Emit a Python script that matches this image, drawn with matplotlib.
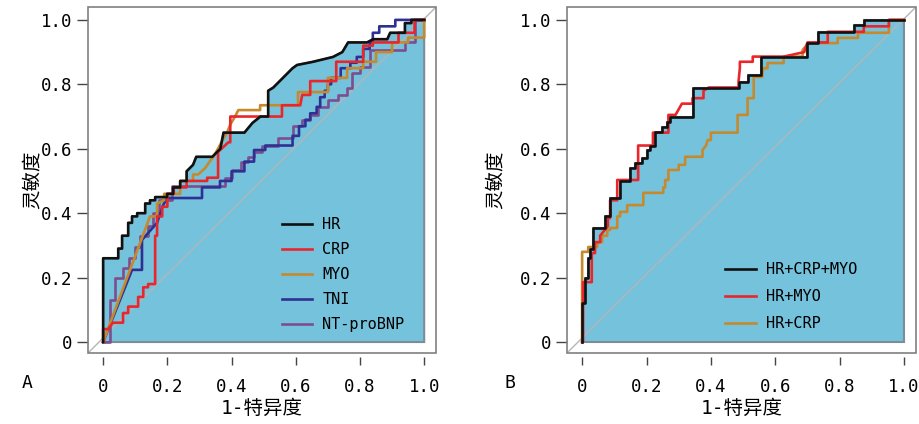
import matplotlib
matplotlib.use("Agg")
import matplotlib.pyplot as plt
from matplotlib.patches import Rectangle

plt.rcParams["font.family"] = ["DejaVu Sans Mono", "Noto Sans CJK SC"]

FILL = "#75C2DD"
EDGE = "#7c8c98"
FRAME = "#808080"

# ---- panel A: single markers ----
hr_x = [0, 0, 0.047, 0.047, 0.059, 0.059, 0.078, 0.078, 0.090, 0.090, 0.106, 0.106,
        0.131, 0.131, 0.146, 0.146, 0.162, 0.162, 0.199, 0.199, 0.218, 0.218, 0.24, 0.24,
        0.26, 0.26, 0.28, 0.29, 0.34, 0.365, 0.375, 0.44, 0.465, 0.49, 0.514, 0.514,
        0.53, 0.59, 0.604, 0.654, 0.716, 0.745, 0.763, 0.822, 0.841, 0.885, 0.894,
        0.94, 0.94, 0.96, 0.96, 1.0]
hr_y = [0, 0.26, 0.26, 0.29, 0.29, 0.33, 0.33, 0.37, 0.37, 0.39, 0.39, 0.40,
        0.40, 0.43, 0.43, 0.44, 0.44, 0.45, 0.45, 0.46, 0.46, 0.48, 0.48, 0.50,
        0.50, 0.53, 0.55, 0.575, 0.575, 0.60, 0.65, 0.65, 0.68, 0.70, 0.70, 0.78,
        0.79, 0.85, 0.86, 0.87, 0.885, 0.90, 0.93, 0.93, 0.94, 0.94, 0.96,
        0.96, 0.99, 0.99, 1.0, 1.0]

crp_x = [0, 0, 0.016, 0.03, 0.062, 0.062, 0.078, 0.078, 0.109, 0.109, 0.125, 0.125,
         0.140, 0.140, 0.162, 0.162, 0.168, 0.168, 0.184, 0.184, 0.20, 0.20, 0.22, 0.22,
         0.26, 0.26, 0.324, 0.324, 0.358, 0.358, 0.39, 0.396, 0.396, 0.557, 0.557,
         0.614, 0.62, 0.645, 0.645, 0.726, 0.726, 0.81, 0.81, 0.84, 0.84, 0.92, 0.92,
         0.97, 0.97, 1.0]
crp_y = [0, 0.04, 0.04, 0.06, 0.06, 0.09, 0.09, 0.11, 0.11, 0.14, 0.14, 0.17,
         0.17, 0.18, 0.18, 0.33, 0.33, 0.39, 0.39, 0.42, 0.42, 0.46, 0.46, 0.48,
         0.48, 0.50, 0.50, 0.51, 0.51, 0.59, 0.62, 0.62, 0.70, 0.70, 0.735,
         0.735, 0.767, 0.767, 0.81, 0.81, 0.87, 0.87, 0.92, 0.92, 0.93, 0.93, 0.96,
         0.96, 1.0, 1.0]

myo_x = [0, 0.146, 0.168, 0.168, 0.19, 0.19, 0.24, 0.24, 0.28, 0.28, 0.296, 0.318,
         0.335, 0.344, 0.374, 0.386, 0.396, 0.411, 0.421, 0.489, 0.489, 0.607, 0.607,
         0.70, 0.70, 0.76, 0.76, 0.81, 0.81, 0.85, 0.85, 0.90, 0.90, 0.95, 0.95,
         1.0, 1.0]
myo_y = [0, 0.39, 0.39, 0.43, 0.44, 0.46, 0.46, 0.50, 0.50, 0.52, 0.52, 0.54,
         0.565, 0.575, 0.63, 0.65, 0.675, 0.70, 0.72, 0.72, 0.735, 0.735, 0.776,
         0.776, 0.82, 0.82, 0.85, 0.85, 0.87, 0.87, 0.90, 0.90, 0.93, 0.93, 0.945,
         0.945, 1.0]

tni_x = [0, 0.09, 0.121, 0.121, 0.168, 0.187, 0.199, 0.308, 0.308, 0.364, 0.364,
         0.40, 0.40, 0.44, 0.44, 0.47, 0.47, 0.505, 0.505, 0.59, 0.59, 0.61, 0.61,
         0.63, 0.63, 0.645, 0.645, 0.665, 0.665, 0.676, 0.676, 0.69, 0.69, 0.70,
         0.70, 0.71, 0.71, 0.74, 0.74, 0.77, 0.77, 0.79, 0.79, 0.81, 0.81, 0.83,
         0.83, 0.84, 0.84, 0.86, 0.86, 0.91, 0.91, 1.0]
tni_y = [0, 0.224, 0.224, 0.317, 0.37, 0.425, 0.447, 0.447, 0.48, 0.48, 0.50,
         0.50, 0.53, 0.53, 0.56, 0.56, 0.596, 0.596, 0.61, 0.61, 0.64, 0.64, 0.67,
         0.67, 0.69, 0.69, 0.71, 0.71, 0.73, 0.73, 0.76, 0.76, 0.78, 0.78,
         0.80, 0.80, 0.82, 0.82, 0.85, 0.85, 0.867, 0.867, 0.885, 0.885, 0.91, 0.91,
         0.93, 0.93, 0.96, 0.96, 0.98, 0.98, 1.0, 1.0]

bnp_x = [0, 0.02, 0.02, 0.037, 0.037, 0.062, 0.062, 0.08, 0.08, 0.10, 0.10, 0.115,
         0.115, 0.14, 0.14, 0.155, 0.155, 0.175, 0.175, 0.215, 0.215, 0.38, 0.38,
         0.40, 0.40, 0.43, 0.43, 0.45, 0.45, 0.47, 0.47, 0.495, 0.495, 0.545, 0.545,
         0.59, 0.59, 0.62, 0.62, 0.645, 0.645, 0.67, 0.67, 0.70, 0.70, 0.732, 0.732,
         0.76, 0.76, 0.776, 0.776, 0.80, 0.80, 0.83, 0.83, 0.94, 0.94, 0.97, 0.97, 1.0]
bnp_y = [0, 0, 0.13, 0.13, 0.20, 0.20, 0.23, 0.23, 0.26, 0.26, 0.295, 0.295,
         0.33, 0.33, 0.36, 0.36, 0.40, 0.40, 0.44, 0.44, 0.485, 0.485, 0.51,
         0.51, 0.535, 0.535, 0.56, 0.56, 0.575, 0.575, 0.59, 0.59, 0.61, 0.61, 0.633,
         0.633, 0.67, 0.67, 0.69, 0.69, 0.705, 0.705, 0.73, 0.73, 0.75, 0.75, 0.767,
         0.767, 0.79, 0.79, 0.835, 0.835, 0.855, 0.855, 0.905, 0.905, 0.93, 0.93, 1.0, 1.0]

# ---- panel B: combinations ----
c3_x = [0, 0, 0.01, 0.01, 0.019, 0.019, 0.025, 0.025, 0.034, 0.034, 0.072, 0.072,
        0.087, 0.087, 0.118, 0.118, 0.15, 0.15, 0.165, 0.165, 0.187, 0.187, 0.202,
        0.202, 0.212, 0.212, 0.227, 0.227, 0.249, 0.249, 0.265, 0.265, 0.274, 0.274,
        0.343, 0.343, 0.486, 0.486, 0.514, 0.514, 0.555, 0.555, 0.70, 0.70, 0.732,
        0.732, 0.845, 0.845, 0.875, 0.875, 1.0]
c3_y = [0, 0.12, 0.12, 0.20, 0.20, 0.26, 0.26, 0.29, 0.29, 0.354, 0.354, 0.39,
        0.39, 0.447, 0.447, 0.50, 0.50, 0.54, 0.54, 0.556, 0.556, 0.57, 0.57,
        0.596, 0.596, 0.61, 0.61, 0.652, 0.652, 0.667, 0.667, 0.683, 0.683, 0.70,
        0.70, 0.79, 0.79, 0.807, 0.807, 0.83, 0.83, 0.886, 0.886, 0.928, 0.928,
        0.963, 0.963, 0.985, 0.985, 1.0, 1.0]

hm_x = [0, 0.003, 0.003, 0.03, 0.03, 0.04, 0.04, 0.056, 0.056, 0.08, 0.08, 0.087,
        0.087, 0.109, 0.109, 0.174, 0.174, 0.22, 0.22, 0.268, 0.268, 0.29, 0.31,
        0.343, 0.343, 0.377, 0.377, 0.393, 0.486, 0.486, 0.49, 0.49, 0.53, 0.53,
        0.626, 0.69, 0.70, 0.763, 0.763, 0.875, 0.875, 0.953, 0.953, 1.0]
hm_y = [0, 0, 0.186, 0.186, 0.276, 0.276, 0.31, 0.31, 0.33, 0.36, 0.385, 0.385,
        0.44, 0.44, 0.503, 0.503, 0.61, 0.61, 0.65, 0.65, 0.705, 0.705, 0.74,
        0.74, 0.757, 0.757, 0.78, 0.79, 0.79, 0.81, 0.85, 0.87, 0.87, 0.886,
        0.886, 0.90, 0.93, 0.93, 0.963, 0.963, 0.98, 0.98, 1.0, 1.0]

hc_x = [0, 0, 0.019, 0.019, 0.047, 0.047, 0.062, 0.062, 0.078, 0.078, 0.087, 0.087,
        0.109, 0.109, 0.118, 0.118, 0.14, 0.14, 0.19, 0.19, 0.252, 0.252, 0.258,
        0.258, 0.268, 0.268, 0.30, 0.30, 0.32, 0.32, 0.374, 0.374, 0.385, 0.39,
        0.40, 0.40, 0.483, 0.483, 0.514, 0.514, 0.533, 0.533, 0.56, 0.56, 0.564,
        0.576, 0.576, 0.626, 0.626, 0.685, 0.685, 0.704, 0.794, 0.794, 0.857, 0.857,
        0.953, 0.953, 1.0]
hc_y = [0, 0.28, 0.28, 0.295, 0.295, 0.31, 0.31, 0.33, 0.33, 0.348, 0.348, 0.354,
        0.354, 0.39, 0.39, 0.404, 0.404, 0.425, 0.425, 0.463, 0.463, 0.48, 0.48,
        0.503, 0.503, 0.534, 0.534, 0.55, 0.55, 0.575, 0.575, 0.596, 0.61, 0.627,
        0.627, 0.65, 0.65, 0.705, 0.705, 0.757, 0.757, 0.823, 0.823, 0.838, 0.85,
        0.85, 0.866, 0.866, 0.886, 0.886, 0.907, 0.928, 0.928, 0.944, 0.944, 0.96,
        0.96, 1.0, 1.0]

ticks = [0, 0.2, 0.4, 0.6, 0.8, 1.0]
tick_labels = ["0", "0.2", "0.4", "0.6", "0.8", "1.0"]

panel_a = [("HR", hr_x, hr_y, "#111111"),
           ("CRP", crp_x, crp_y, "#E8262B"),
           ("MYO", myo_x, myo_y, "#C68A2E"),
           ("TNI", tni_x, tni_y, "#2E3192"),
           ("NT-proBNP", bnp_x, bnp_y, "#7D4E8E")]
panel_b = [("HR+CRP+MYO", c3_x, c3_y, "#111111"),
           ("HR+MYO", hm_x, hm_y, "#E8262B"),
           ("HR+CRP", hc_x, hc_y, "#C68A2E")]


def draw_roc(ax, curves, legend_xy, spacing, ylab_x):
    base_x, base_y = curves[0][1], curves[0][2]
    ax.fill(list(base_x) + [1.0, 0.0], list(base_y) + [0.0, 0.0],
            facecolor=FILL, edgecolor=EDGE, linewidth=1.5, zorder=1)
    ax.plot([0, 1], [0, 1], transform=ax.transAxes, color="#b5b5b5", lw=1, zorder=2)
    for name, xs, ys, c in reversed(curves):
        ax.plot(xs, ys, color=c, lw=1.9, label=name, zorder=3)
    handles, labels = ax.get_legend_handles_labels()
    ax.legend(handles[::-1], labels[::-1], loc="upper left", bbox_to_anchor=legend_xy,
              frameon=False, fontsize=11, handlelength=2.0, handletextpad=0.65,
              labelspacing=spacing, borderpad=0, borderaxespad=0)

    ax.set_xlim(-0.047, 1.037)
    ax.set_ylim(-0.034, 1.040)
    for s in ax.spines.values():
        s.set_visible(False)
    ax.spines["bottom"].set_position(("outward", 3))
    ax.add_patch(Rectangle((0, 0), 1, 1, transform=ax.transAxes, fill=False,
                           edgecolor=FRAME, lw=1.2, clip_on=False, zorder=5))
    ax.set_xticks(ticks)
    ax.set_xticklabels(tick_labels)
    ax.set_yticks(ticks)
    ax.set_yticklabels(tick_labels)
    ax.tick_params(axis="x", direction="out", length=6, width=1, color="#444444",
                   labelsize=12.5, pad=9)
    ax.tick_params(axis="y", direction="out", length=8, width=1, color="#444444",
                   labelsize=12.5, pad=3)
    ax.set_xlabel("1-特异度", fontsize=14, labelpad=2)
    ax.set_ylabel("灵敏度", fontsize=14)
    ax.yaxis.set_label_coords(ylab_x, 0.5)


fig = plt.figure(figsize=(9.2, 4.24), dpi=100)
ax1 = fig.add_axes([0.0957, 0.1675, 0.3783, 0.816])
ax2 = fig.add_axes([0.6163, 0.1675, 0.3793, 0.816])
draw_roc(ax1, panel_a, (0.557, 0.393), 0.66, -0.132)
draw_roc(ax2, panel_b, (0.453, 0.263), 0.8, -0.178)
fig.text(27 / 920, 1 - 383 / 424, "A", fontsize=13, ha="center", va="center")
fig.text(510 / 920, 1 - 383 / 424, "B", fontsize=13, ha="center", va="center")
fig.savefig("out.png", dpi=100)
